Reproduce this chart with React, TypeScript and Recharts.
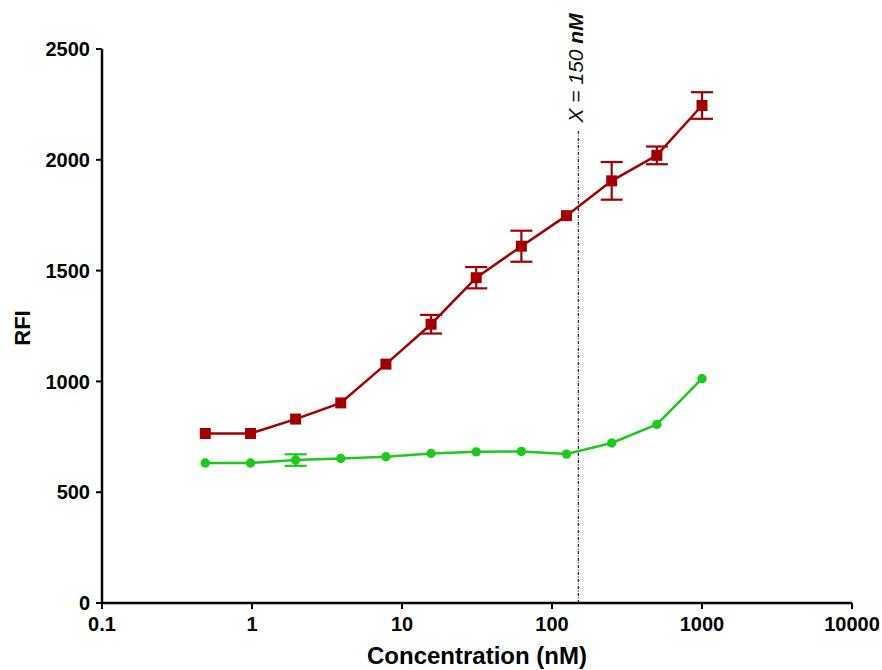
import { LineChart, Line, XAxis, YAxis, ErrorBar, ReferenceLine } from 'recharts';

// two-fold dilution series, nM
const CONC = [0.488, 0.977, 1.953, 3.906, 7.813, 15.625, 31.25, 62.5, 125, 250, 500, 1000];
const RED_MEAN = [765, 765, 830, 903, 1078, 1258, 1468, 1610, 1748, 1905, 2020, 2245];
const RED_ERR = [null, null, null, null, null, 42, 48, 70, null, 85, 40, 60];
const GREEN_MEAN = [632, 632, 645, 652, 660, 675, 682, 684, 672, 722, 806, 1012];
const GREEN_ERR = [null, null, 26, null, null, null, null, null, null, null, null, null];

const X_TICKS = [0.1, 1, 10, 100, 1000, 10000];
const Y_TICKS = [0, 500, 1000, 1500, 2000, 2500];

const RED = '#a00000';
const GREEN = '#1ec81e';
const FONT = 'Arial, "Liberation Sans", sans-serif';

const data = CONC.map((c, i) => ({
  conc: c,
  red: RED_MEAN[i],
  redErr: RED_ERR[i],
  green: GREEN_MEAN[i],
  greenErr: GREEN_ERR[i],
}));

const SquareDot = (p: any) => (
  <rect key={`sq-${p.index}`} x={p.cx - 5.5} y={p.cy - 5.5} width={11} height={11} fill={RED} />
);

const RoundDot = (p: any) => (
  <circle key={`ci-${p.index}`} cx={p.cx} cy={p.cy} r={4.7} fill={GREEN} />
);

export default function App() {
  const axisProps = {
    stroke: '#000',
    tick: { fill: '#000', fontSize: 20, fontWeight: 'bold', fontFamily: FONT },
    tickLine: { stroke: '#000', strokeWidth: 2 },
    axisLine: { stroke: '#000', strokeWidth: 2.5 },
    tickSize: 6,
  };

  return (
    <div style={{ position: 'absolute', left: 0, top: 0, width: 882, height: 670, background: '#fff' }}>
      <LineChart width={882} height={670} data={data} margin={{ top: 49, right: 30, bottom: 0, left: 0 }}>
        <XAxis
          dataKey="conc"
          type="number"
          scale="log"
          domain={[0.1, 10000]}
          ticks={X_TICKS}
          allowDataOverflow
          height={67}
          tickMargin={8}
          tickFormatter={(v: number) => String(v)}
          {...axisProps}
          label={{
            value: 'Concentration (nM)',
            position: 'insideBottom',
            offset: 6,
            fill: '#000',
            fontSize: 24,
            fontWeight: 'bold',
            fontFamily: FONT,
          }}
        />
        <YAxis
          type="number"
          domain={[0, 2500]}
          ticks={Y_TICKS}
          width={102}
          tickMargin={6}
          {...axisProps}
          label={{
            content: (p: any) => {
              const vb = p.viewBox || { y: 49, height: 554 };
              const cy = vb.y + vb.height / 2 + 2;
              return (
                <text
                  x={30}
                  y={cy}
                  transform={`rotate(-90 30 ${cy})`}
                  textAnchor="middle"
                  fill="#000"
                  fontSize={22}
                  fontWeight="bold"
                  fontFamily={FONT}
                >
                  RFI
                </text>
              );
            },
          }}
        />
        <ReferenceLine
          segment={[{ x: 150, y: 0 }, { x: 150, y: 2135 }]}
          stroke="#333"
          strokeWidth={1.3}
          strokeDasharray="3 1.5 1 1.5"
          label={{
            content: (p: any) => {
              const vb = p.viewBox || { x: 578, y: 130 };
              const x = vb.x + 5;
              const y = vb.y - 62;
              return (
                <text
                  x={x}
                  y={y}
                  transform={`rotate(-90 ${x} ${y})`}
                  textAnchor="middle"
                  fill="#111"
                  fontSize={21}
                  fontStyle="italic"
                  fontFamily={FONT}
                >
                  X = 150 <tspan fontWeight="bold">nM</tspan>
                </text>
              );
            },
          }}
        />
        <Line
          dataKey="green"
          stroke={GREEN}
          strokeWidth={2.5}
          dot={RoundDot}
          activeDot={false}
          isAnimationActive={false}
        >
          <ErrorBar dataKey="greenErr" direction="y" width={11} stroke={GREEN} strokeWidth={2.2} />
        </Line>
        <Line
          dataKey="red"
          stroke={RED}
          strokeWidth={2.5}
          dot={SquareDot}
          activeDot={false}
          isAnimationActive={false}
        >
          <ErrorBar dataKey="redErr" direction="y" width={11} stroke={RED} strokeWidth={2.2} />
        </Line>
      </LineChart>
    </div>
  );
}
